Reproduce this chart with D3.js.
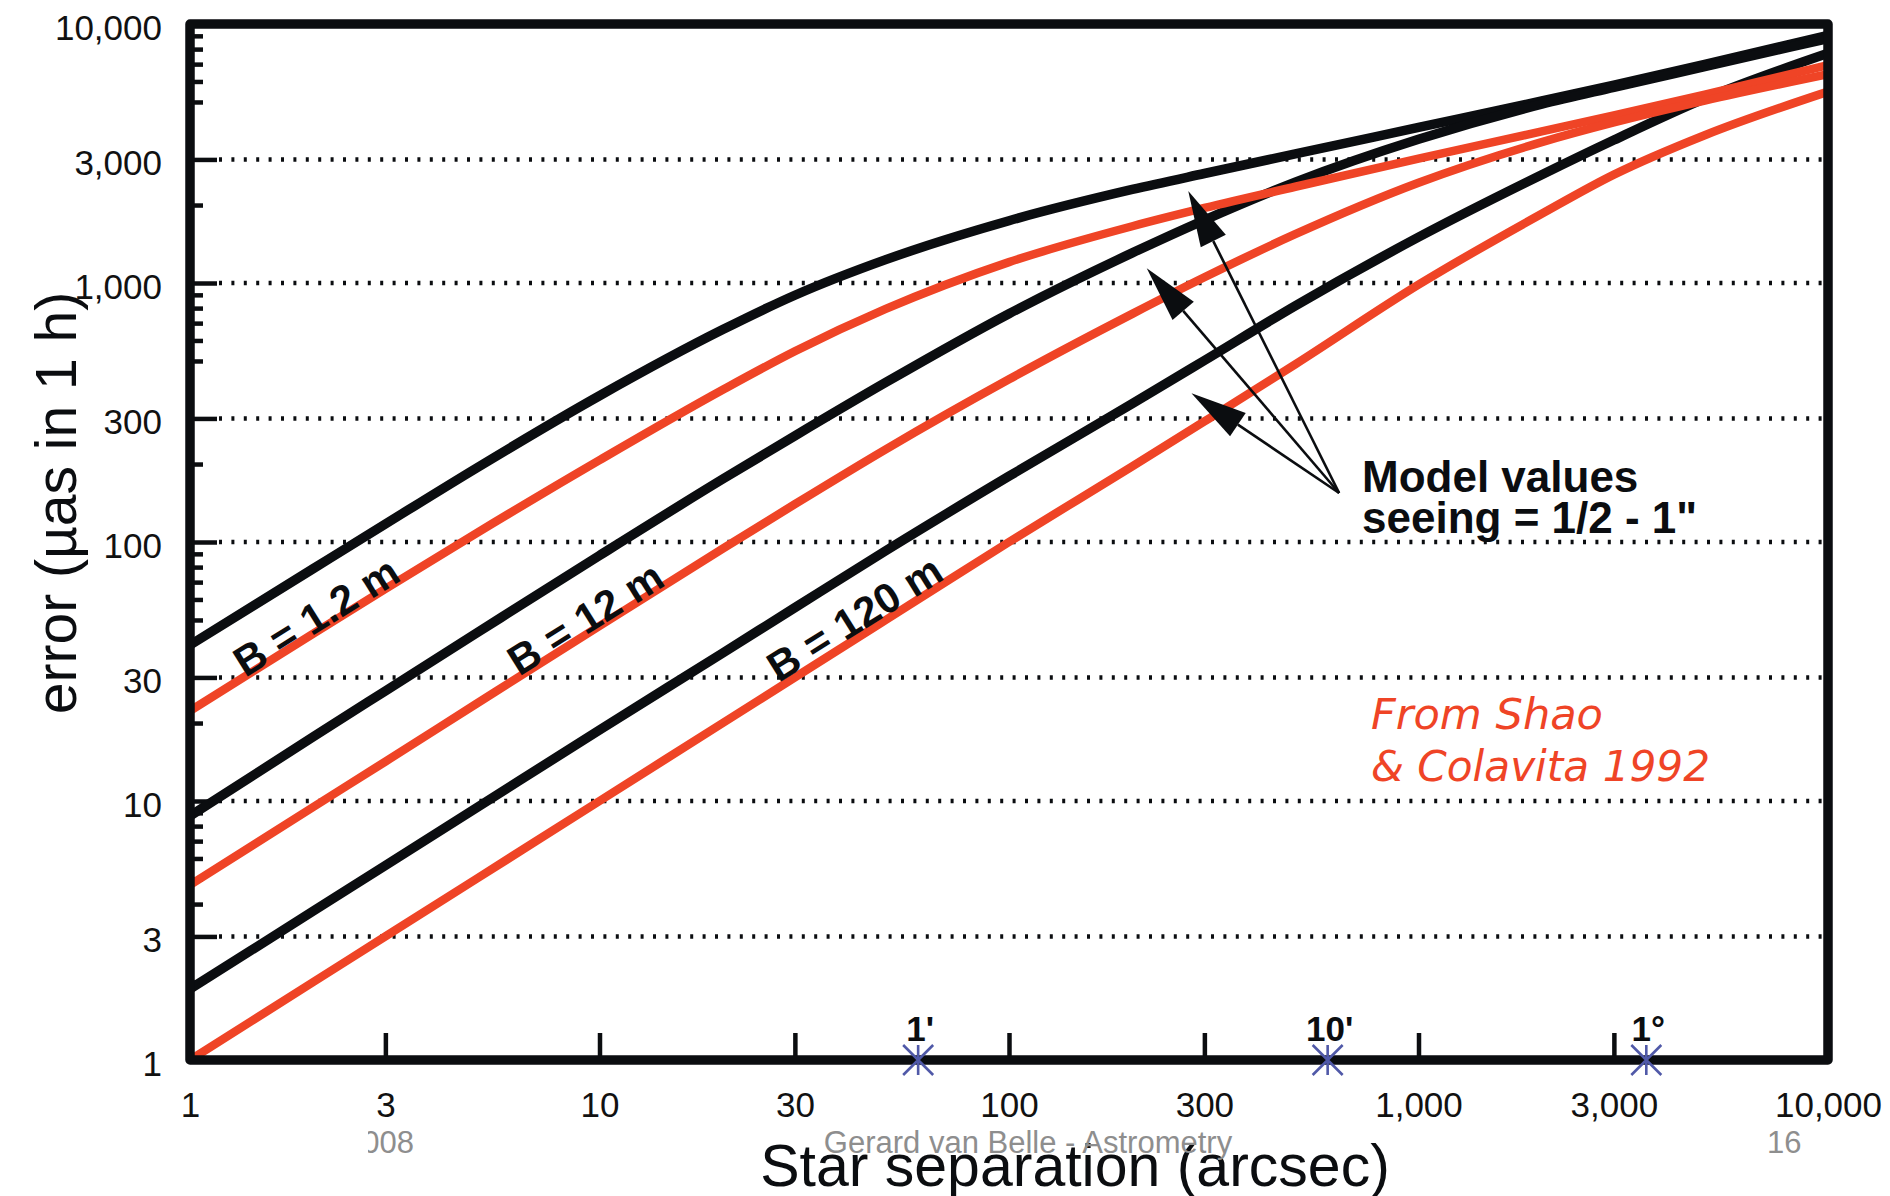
<!DOCTYPE html>
<html>
<head>
<meta charset="utf-8">
<script src="https://cdn.jsdelivr.net/npm/d3@7/dist/d3.min.js"></script>
<style>
  html, body { margin: 0; padding: 0; background: #ffffff; }
  svg { display: block; }
</style>
</head>
<body>
<svg id="chart" width="1890" height="1196"></svg>
<script>
// Star separation (arcsec) at which each curve is sampled
const separation = [1, 2, 3, 5, 10, 20, 30, 50, 100, 200, 300, 500, 1000, 2000, 3000, 5000, 10000];

// Model values (seeing 1/2 - 1"), error in µas for a 1 h integration
const modelB1_2 = [40, 78.9, 117.3, 192.7, 367, 661, 897, 1231, 1740, 2297, 2647, 3150, 3986, 5044, 5813, 6988, 9031];
const modelB12  = [8.75, 17.7, 26.6, 44.4, 88.7, 175, 257, 413, 761, 1307, 1750, 2452, 3589, 4903, 5696, 6847, 8788];
const modelB120 = [1.88, 3.76, 5.64, 9.40, 18.8, 37.3, 55.8, 92.5, 179.5, 342, 502, 816, 1503, 2618, 3565, 5152, 7709];

// Shao & Colavita 1992
const shaoB1_2 = [22.3, 44.3, 65.9, 108, 207, 387, 545, 794, 1204, 1656, 1948, 2353, 3020, 3848, 4436, 5331, 6937];
const shaoB12  = [4.74, 9.48, 14.2, 23.7, 47.4, 94.2, 140, 228, 425, 760, 1052, 1543, 2438, 3499, 4168, 5060, 6397];
const shaoB120 = [1.0, 2.0, 3.0, 5.0, 10.0, 20, 30, 50, 100, 196, 292, 485, 985, 1850, 2620, 3720, 5480];

const baselineNames = ["B = 1.2 m", "B = 12 m", "B = 120 m"];

// Axis ticks
const xTickValues = [1, 3, 10, 30, 100, 300, 1000, 3000, 10000];
const yTickValues = [1, 3, 10, 30, 100, 300, 1000, 3000, 10000];
const yMinorValues = [2, 4, 5, 6, 7, 8, 9,
                      20, 50, 60, 70, 80, 90,
                      200, 500, 600, 700, 800, 900,
                      2000, 5000, 6000, 7000, 8000, 9000];
const gridValues = [3, 10, 30, 100, 300, 1000, 3000];

// Reference angular separations marked on the x axis
const angleMarks = [60, 600, 3600];
const angleLabels = ["1'", "10'", "1\u00B0"];

const BLACK = "#0b0d10";
const RED = "#ef4426";
const BLUE = "#5059a8";
const GREY = "#8e8e8e";
const SANS = "'Liberation Sans', Arial, Helvetica, sans-serif";

const svg = d3.select("#chart");
const plotLeft = 190, plotRight = 1828, plotTop = 24, plotBottom = 1060;

const x = d3.scaleLog().domain([1, 10000]).range([plotLeft, plotRight]);
const y = d3.scaleLog().domain([1, 10000]).range([plotBottom, plotTop]);

const defs = svg.append("defs");
defs.append("clipPath").attr("id", "plotClip")
  .append("rect").attr("x", plotLeft).attr("y", plotTop)
  .attr("width", plotRight - plotLeft).attr("height", plotBottom - plotTop);

// Dotted horizontal grid lines
svg.append("g").selectAll("line").data(gridValues).join("line")
  .attr("x1", plotLeft + 29).attr("x2", plotRight)
  .attr("y1", d => y(d)).attr("y2", d => y(d))
  .attr("stroke", BLACK).attr("stroke-width", 4.5)
  .attr("stroke-dasharray", "3,9.4");

// Y axis: major ticks pointing inward with labels on the left
const yAxis = svg.append("g").attr("transform", `translate(${plotLeft},0)`)
  .call(d3.axisLeft(y).tickValues(yTickValues).tickSize(-27).tickPadding(28)
    .tickFormat(d3.format(",")));
yAxis.select(".domain").remove();
yAxis.selectAll(".tick line").attr("stroke", BLACK).attr("stroke-width", 4.5);
yAxis.selectAll(".tick text").attr("font-family", SANS).attr("font-size", 35)
  .attr("fill", "#111").attr("dy", "0.43em");

const yMinor = svg.append("g").attr("transform", `translate(${plotLeft},0)`)
  .call(d3.axisLeft(y).tickValues(yMinorValues).tickSize(-13).tickFormat(""));
yMinor.select(".domain").remove();
yMinor.selectAll(".tick line").attr("stroke", BLACK).attr("stroke-width", 4.5);

// X axis: ticks pointing up into the plot
const xAxis = svg.append("g").attr("transform", `translate(0,${plotBottom})`)
  .call(d3.axisBottom(x).tickValues(xTickValues).tickSize(-27).tickPadding(32)
    .tickFormat(d3.format(",")));
xAxis.select(".domain").remove();
xAxis.selectAll(".tick line").attr("stroke", BLACK).attr("stroke-width", 4.5);
xAxis.selectAll(".tick text").attr("font-family", SANS).attr("font-size", 35)
  .attr("fill", "#111");

// Error curves
const line = d3.line().x(d => x(d[0])).y(d => y(d[1])).curve(d3.curveMonotoneX);
const curves = svg.append("g").attr("clip-path", "url(#plotClip)");
[modelB1_2, modelB12, modelB120].forEach(vals => {
  curves.append("path").datum(separation.map((s, i) => [s, vals[i]]))
    .attr("d", line).attr("fill", "none").attr("stroke", BLACK)
    .attr("stroke-width", 9.5).attr("stroke-linejoin", "round");
});
[shaoB1_2, shaoB12, shaoB120].forEach(vals => {
  curves.append("path").datum(separation.map((s, i) => [s, vals[i]]))
    .attr("d", line).attr("fill", "none").attr("stroke", RED)
    .attr("stroke-width", 8.5).attr("stroke-linejoin", "round");
});

// Baseline labels laid along the curves
const labelAnchors = [[2.03, 51.8], [9.22, 50.9], [41.9, 50.9]];
svg.append("g").selectAll("text").data(baselineNames).join("text")
  .attr("transform", (d, i) => `translate(${x(labelAnchors[i][0])},${y(labelAnchors[i][1])}) rotate(-32)`)
  .attr("text-anchor", "middle").attr("dy", "0.36em")
  .attr("font-family", SANS).attr("font-weight", "bold").attr("font-size", 42)
  .attr("fill", BLACK).text(d => d);

// Annotation arrows pointing at the model curves
const arrowFrom = [640, 154.6];
const arrowTips = [[274, 2266], [217, 1140], [279, 375]];
const arrows = svg.append("g");
const ox = x(arrowFrom[0]), oy = y(arrowFrom[1]);
arrowTips.forEach(t => {
  const tx = x(t[0]), ty = y(t[1]);
  const dx = ox - tx, dy = oy - ty, len = Math.hypot(dx, dy);
  const ux = dx / len, uy = dy / len;
  const headLen = 56, halfW = 14;
  const bx = tx + ux * headLen, by = ty + uy * headLen;
  arrows.append("line").attr("x1", ox).attr("y1", oy).attr("x2", bx).attr("y2", by)
    .attr("stroke", BLACK).attr("stroke-width", 2.6);
  arrows.append("path")
    .attr("d", `M${tx},${ty}L${bx - uy * halfW},${by + ux * halfW}L${bx + uy * halfW},${by - ux * halfW}Z`)
    .attr("fill", BLACK);
});

const note = svg.append("text")
  .attr("x", x(728)).attr("y", y(156))
  .attr("font-family", SANS).attr("font-weight", "bold").attr("font-size", 44)
  .attr("fill", BLACK);
note.append("tspan").attr("x", x(728)).text("Model values");
note.append("tspan").attr("x", x(728)).attr("dy", 41.5).text("seeing = 1/2 - 1\"");

// Source of the red curves
const src = svg.append("g").attr("font-family", "'DejaVu Sans', Verdana, sans-serif")
  .attr("font-style", "oblique").attr("font-size", 42).attr("fill", RED);
src.append("text").attr("x", 1371).attr("y", 729)
  .attr("textLength", 232).attr("lengthAdjust", "spacingAndGlyphs").text("From Shao");
src.append("text").attr("x", 1371).attr("y", 780.5)
  .attr("textLength", 339).attr("lengthAdjust", "spacingAndGlyphs").text("& Colavita 1992");

// Plot frame
svg.append("rect").attr("x", plotLeft).attr("y", plotTop)
  .attr("width", plotRight - plotLeft).attr("height", plotBottom - plotTop)
  .attr("fill", "none").attr("stroke", BLACK).attr("stroke-width", 9.5)
  .attr("stroke-linejoin", "round");

// Angular separation markers on the x axis
const star = "M0,-15V15M-15,-15L15,15M15,-15L-15,15";
svg.append("g").selectAll("path").data(angleMarks).join("path")
  .attr("transform", d => `translate(${x(d)},${plotBottom})`)
  .attr("d", star).attr("fill", "none").attr("stroke", BLUE).attr("stroke-width", 2.6);
svg.append("g").selectAll("text").data(angleMarks).join("text")
  .attr("x", d => x(d) + 2).attr("y", plotBottom - 19)
  .attr("text-anchor", "middle")
  .attr("font-family", SANS).attr("font-weight", "bold").attr("font-size", 35)
  .attr("fill", BLACK).text((d, i) => angleLabels[i]);

// Axis titles
svg.append("text")
  .attr("transform", "translate(76,503) rotate(-90)")
  .attr("text-anchor", "middle").attr("font-family", SANS).attr("font-size", 57)
  .attr("fill", BLACK).text("error (\u00B5as in 1 h)");
svg.append("text")
  .attr("x", 1075).attr("y", 1186).attr("text-anchor", "middle")
  .attr("font-family", SANS).attr("font-size", 59).attr("fill", BLACK)
  .text("Star separation (arcsec)");

// Footer
defs.append("clipPath").attr("id", "footClip")
  .append("rect").attr("x", 368).attr("y", 1100).attr("width", 80).attr("height", 80);
svg.append("text").attr("clip-path", "url(#footClip)")
  .attr("x", 414).attr("y", 1153).attr("text-anchor", "end")
  .attr("font-family", SANS).attr("font-size", 31).attr("fill", GREY).text("2008");
svg.append("text").attr("x", 1028).attr("y", 1153).attr("text-anchor", "middle")
  .attr("font-family", SANS).attr("font-size", 31).attr("fill", GREY)
  .text("Gerard van Belle - Astrometry");
svg.append("text").attr("x", 1767).attr("y", 1153)
  .attr("font-family", SANS).attr("font-size", 31).attr("fill", GREY).text("16");
</script>
</body>
</html>
